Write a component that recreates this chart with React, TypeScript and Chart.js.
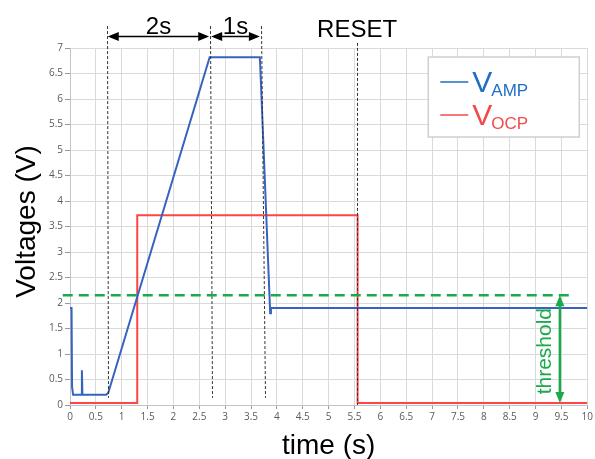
import React, { useEffect, useRef } from 'react';
import { Chart, registerables } from 'chart.js';

Chart.register(...registerables);

// ---- data ----
const vampTimes = [0, 0.03, 0.04, 0.06, 0.22, 0.23, 0.24, 0.7, 0.74, 2.7, 3.67, 3.68, 3.87, 3.885, 10];
const vampVolts = [1.9, 1.9, 0.35, 0.2, 0.2, 0.68, 0.2, 0.2, 0.24, 6.82, 6.82, 6.6, 1.8, 1.9, 1.9];
const vocpTimes = [0, 1.3, 1.3, 5.56, 5.56, 10];
const vocpVolts = [0.04, 0.04, 3.72, 3.72, 0.04, 0.04];
const xTicks = [0, 0.5, 1, 1.5, 2, 2.5, 3, 3.5, 4, 4.5, 5, 5.5, 6, 6.5, 7, 7.5, 8, 8.5, 9, 9.5, 10];
const yTicks = [0, 0.5, 1, 1.5, 2, 2.5, 3, 3.5, 4, 4.5, 5, 5.5, 6, 6.5, 7];
const thresholdVolts = 2.15;
const thresholdEndTime = 9.75;
const thresholdStartTime = -0.14;
const thresholdArrowTime = 9.47;
const thresholdArrowBottom = 0.04;
const guideTopTimes = [0.71, 2.71, 3.69, 5.55];
const guideBottomTimes = [0.73, 2.75, 3.77, 5.55];
const guideTopVolts = [7.43, 7.43, 7.43, 7.1];
const guideBottomVolts = [0.14, 0.14, 0.14, 0.0];
const spanLabels = ['2s', '1s'];
const spanArrowVolts = 7.24;
const resetLabel = 'RESET';
const seriesNames = ['VAMP', 'VOCP'];

const SANS = '"Liberation Sans", Arial, sans-serif';

function arrowHead(ctx: CanvasRenderingContext2D, x: number, y: number, dx: number, dy: number, len: number, half: number) {
  // tip at (x,y), pointing in direction (dx,dy)
  const px = -dy, py = dx;
  ctx.beginPath();
  ctx.moveTo(x, y);
  ctx.lineTo(x - dx * len + px * half, y - dy * len + py * half);
  ctx.lineTo(x - dx * len - px * half, y - dy * len - py * half);
  ctx.closePath();
  ctx.fill();
}

const annotations = {
  id: 'annotations',
  afterDraw(chart: any) {
    const { ctx, chartArea } = chart;
    const x = chart.scales.x;
    const y = chart.scales.y;
    ctx.save();

    // dotted guides
    ctx.strokeStyle = '#333';
    ctx.lineWidth = 1;
    ctx.setLineDash([3, 2]);
    guideTopTimes.forEach((t, i) => {
      ctx.beginPath();
      ctx.moveTo(Math.round(x.getPixelForValue(t)) + 0.5, y.getPixelForValue(guideTopVolts[i]));
      ctx.lineTo(Math.round(x.getPixelForValue(guideBottomTimes[i])) + 0.5, y.getPixelForValue(guideBottomVolts[i]));
      ctx.stroke();
    });
    ctx.setLineDash([]);

    // span arrows
    const ay = Math.round(y.getPixelForValue(spanArrowVolts)) + 0.5;
    ctx.strokeStyle = '#000';
    ctx.fillStyle = '#000';
    ctx.lineWidth = 1.5;
    for (let i = 0; i < 2; i++) {
      const x1 = x.getPixelForValue(guideTopTimes[i]);
      const x2 = x.getPixelForValue(guideTopTimes[i + 1]);
      ctx.beginPath();
      ctx.moveTo(x1 + 4, ay);
      ctx.lineTo(x2 - 4, ay);
      ctx.stroke();
      arrowHead(ctx, x1 + 1, ay, -1, 0, 11, 4.5);
      arrowHead(ctx, x2 - 1, ay, 1, 0, 11, 4.5);
      ctx.font = `24px ${SANS}`;
      ctx.textAlign = 'center';
      ctx.textBaseline = 'alphabetic';
      ctx.fillText(spanLabels[i], (x1 + x2) / 2, ay - 3);
    }
    ctx.font = `24px ${SANS}`;
    ctx.textAlign = 'center';
    ctx.fillText(resetLabel, x.getPixelForValue(guideTopTimes[3]), y.getPixelForValue(guideTopVolts[3]) - 6);

    // threshold dashed line
    const ty = y.getPixelForValue(thresholdVolts);
    ctx.strokeStyle = '#1aaa4a';
    ctx.lineWidth = 2.5;
    ctx.setLineDash([10, 6]);
    ctx.beginPath();
    ctx.moveTo(x.getPixelForValue(thresholdStartTime), ty);
    ctx.lineTo(x.getPixelForValue(thresholdEndTime), ty);
    ctx.stroke();
    ctx.setLineDash([]);

    // threshold arrow
    const tx = x.getPixelForValue(thresholdArrowTime);
    const by = y.getPixelForValue(thresholdArrowBottom);
    ctx.fillStyle = '#1aaa4a';
    ctx.lineWidth = 2.5;
    ctx.beginPath();
    ctx.moveTo(tx, ty + 6);
    ctx.lineTo(tx, by - 6);
    ctx.stroke();
    arrowHead(ctx, tx, ty, 0, -1, 11, 4.5);
    arrowHead(ctx, tx, by, 0, 1, 11, 4.5);
    ctx.save();
    ctx.translate(tx - 15, (ty + by) / 2 + 2);
    ctx.rotate(-Math.PI / 2);
    ctx.font = `21px ${SANS}`;
    ctx.textAlign = 'center';
    ctx.textBaseline = 'middle';
    ctx.fillText('threshold', 0, 0);
    ctx.restore();

    // legend
    const lx = chartArea.right - 159;
    const ly = chartArea.top + 9;
    const lw = 151, lh = 80;
    ctx.fillStyle = '#fff';
    ctx.fillRect(lx, ly, lw, lh);
    ctx.strokeStyle = '#cfcfcf';
    ctx.lineWidth = 1.5;
    ctx.strokeRect(lx, ly, lw, lh);
    const legendColors = ['#1f6fc4', '#f24a4a'];
    const rows = [ly + 25, ly + 58];
    seriesNames.forEach((name, i) => {
      const ry = rows[i];
      ctx.strokeStyle = legendColors[i];
      ctx.lineWidth = 1.5;
      ctx.beginPath();
      ctx.moveTo(lx + 12, ry);
      ctx.lineTo(lx + 40, ry);
      ctx.stroke();
      ctx.fillStyle = legendColors[i];
      ctx.textAlign = 'left';
      ctx.textBaseline = 'alphabetic';
      ctx.font = `30px ${SANS}`;
      ctx.fillText(name.charAt(0), lx + 44, ry + 10);
      const vw = ctx.measureText(name.charAt(0)).width;
      ctx.font = `17px ${SANS}`;
      ctx.fillText(name.slice(1), lx + 44 + vw - 1, ry + 14);
    });

    // axis titles
    ctx.fillStyle = '#000';
    ctx.font = `28px ${SANS}`;
    ctx.textAlign = 'center';
    ctx.textBaseline = 'middle';
    ctx.fillText('time (s)', (chartArea.left + chartArea.right) / 2, 446);
    ctx.save();
    ctx.translate(27, (chartArea.top + chartArea.bottom) / 2 - 5);
    ctx.rotate(-Math.PI / 2);
    ctx.fillText('Voltages (V)', 0, 0);
    ctx.restore();

    ctx.restore();
  },
};

export default function App() {
  const ref = useRef<HTMLCanvasElement | null>(null);
  useEffect(() => {
    if (!ref.current) return;
    const chart = new Chart(ref.current, {
      type: 'line',
      data: {
        datasets: [
          {
            label: seriesNames[0],
            data: vampTimes.map((t, i) => ({ x: t, y: vampVolts[i] })),
            borderColor: '#3763c0',
            borderWidth: 2,
            pointRadius: 0,
            tension: 0,
          },
          {
            label: seriesNames[1],
            data: vocpTimes.map((t, i) => ({ x: t, y: vocpVolts[i] })),
            borderColor: '#ff4444',
            borderWidth: 2,
            pointRadius: 0,
            tension: 0,
          },
        ],
      },
      options: {
        responsive: false,
        animation: false,
        layout: { padding: { left: 0, top: 48, right: 6, bottom: 0 } },
        plugins: { legend: { display: false }, tooltip: { enabled: false } },
        scales: {
          x: {
            type: 'linear',
            min: 0,
            max: 10,
            afterFit: (s: any) => { s.height = 54; },
            afterBuildTicks: (s: any) => { s.ticks = xTicks.map((v) => ({ value: v })); },
            ticks: {
              callback: (v: any) => String(Number(v)),
              font: { family: '"Open Sans", "Noto Sans", sans-serif', size: 10 },
              color: '#5a5a5a',
              padding: 2,
              maxRotation: 0,
              autoSkip: false,
            },
            grid: { color: '#dadada', lineWidth: 1, tickLength: 4, tickColor: '#999' },
            border: { color: '#c4c4c4' },
          },
          y: {
            type: 'linear',
            min: 0,
            max: 7,
            afterFit: (s: any) => { s.width = 70; },
            afterBuildTicks: (s: any) => { s.ticks = yTicks.map((v) => ({ value: v })); },
            ticks: {
              callback: (v: any) => String(Number(v)),
              font: { family: '"Open Sans", "Noto Sans", sans-serif', size: 10 },
              color: '#5a5a5a',
              padding: 2,
              autoSkip: false,
            },
            grid: { color: '#dadada', lineWidth: 1, tickLength: 5, tickColor: '#999' },
            border: { color: '#c4c4c4' },
          },
        },
      },
      plugins: [annotations],
    } as any);
    return () => chart.destroy();
  }, []);
  return (
    <div style={{ position: 'fixed', left: 0, top: 0, width: 595, height: 459, background: '#fff' }}>
      <canvas ref={ref} width={595} height={459} />
    </div>
  );
}
